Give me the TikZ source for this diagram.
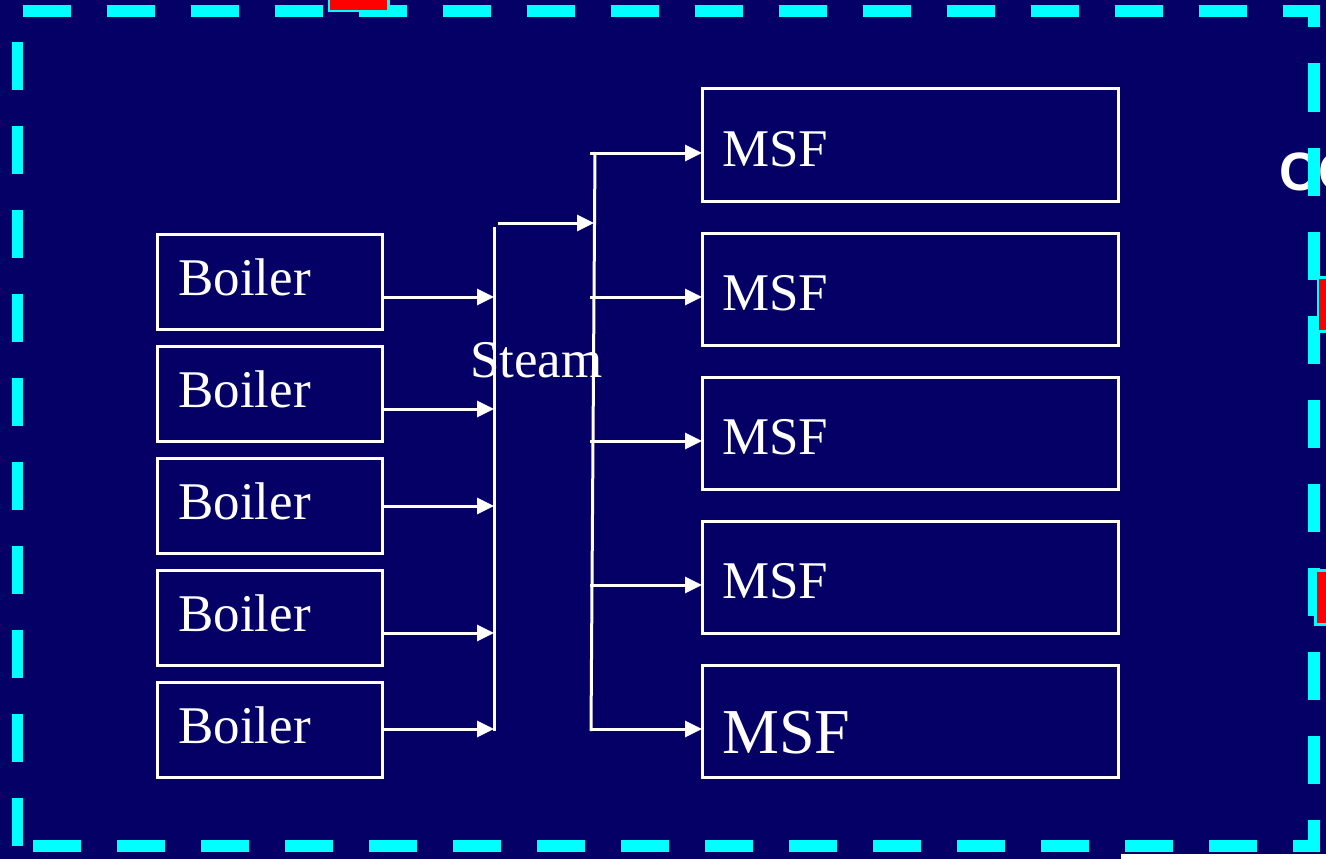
\documentclass[tikz,border=0pt]{standalone}
\usepackage{fontspec}
\setmainfont{Liberation Serif}
\newfontfamily\sansb{Liberation Sans}
\usetikzlibrary{arrows.meta,calc}
\definecolor{navy}{RGB}{5,0,102}
\definecolor{cyanb}{RGB}{0,255,255}
\begin{document}
\begin{tikzpicture}[x=1pt,y=-1pt,
  box/.style={draw=white, line width=3pt, anchor=north west, inner sep=0pt, outer sep=0pt},
  lbl/.style={text=white, anchor=base west, inner sep=0pt, font=\fontsize{53}{60}\selectfont},
  arr/.style={draw=white, line width=3pt, -{Triangle[length=17pt,width=16pt]}},
  ln/.style={draw=white, line width=3pt},
  redbox/.style={draw=cyanb, line width=2.5pt, fill=red}]
\useasboundingbox (0,0) rectangle (1326,859);
\clip (0,0) rectangle (1326,859);
\fill[navy] (0,0) rectangle (1326,859);
\fill[white] (1121,854) rectangle (1326,859);
\node[text=white, anchor=base west, inner sep=0pt, font=\sansb\bfseries\fontsize{54}{60}\selectfont] (co) at (1279,190) {CO};
% dashed frame
\draw[cyanb, line width=11.5pt, dash pattern=on 48pt off 36pt, line join=miter] (17.5,846) -- (17.5,11) -- (1314,11) -- (1314,846) -- cycle;
% red marks
\draw[redbox] (329,-10) rectangle (388.5,11);
\draw[redbox] (1318,277.5) rectangle (1340,331.5);
\draw[redbox] (1315.5,570.5) rectangle (1340,624.5);
% boilers
\foreach \i/\y in {1/234,2/346,3/458,4/570,5/682}{
  \node[box, minimum width=225pt, minimum height=95pt] (b\i) at (157,\y) {};
  \node[lbl] (tb\i) at ($(b\i.north west)+(21,61)$) {Boiler};
}
% MSF
\foreach \i/\y in {1/89,2/233,3/377,4/521,5/665}{
  \node[box, minimum width=416pt, minimum height=112pt] (m\i) at (702,\y) {};
}
\foreach \i in {1,2,3,4}{
  \node[lbl] (tm\i) at ($(m\i.north west)+(20,77)$) {MSF};
}
\node[lbl, font=\fontsize{64}{70}\selectfont] (tm5) at ($(m5.north west)+(20,88)$) {MSF};
% steam label
\node[lbl, font=\fontsize{53}{60}\selectfont] (steam) at (470,377) {Steam};
% collectors
\coordinate (h1top) at (494,227);
\coordinate (h1bot) at (494,731);
\coordinate (h2top) at (595,152);
\coordinate (h2bot) at (591,731);
\coordinate (linkA) at (498,223);
\coordinate (linkB) at (594,223);
\draw[ln] (h1top) -- (h1bot);
\draw[ln] (h2top) -- (h2bot);
\draw[arr] (linkA) -- (linkB);
\foreach \i/\y in {1/297,2/409,3/506,4/633,5/729}{
  \draw[arr] (b\i.east |- 0,\y) -- (h1top |- 0,\y);
}
\foreach \i/\y in {1/153,2/297,3/441,4/585,5/729}{
  \draw[arr] (590,\y) -- (m\i.west |- 0,\y);
}
\end{tikzpicture}
\end{document}
